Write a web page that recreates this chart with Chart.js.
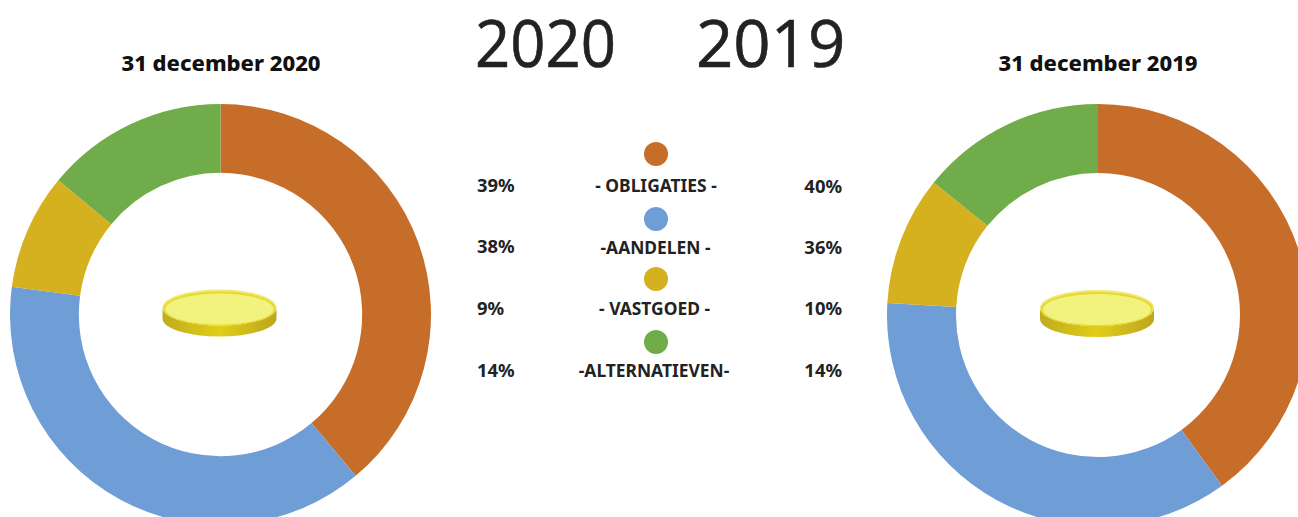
<!DOCTYPE html>
<html>
<head>
<meta charset="utf-8">
<title>Beleggingsportefeuille</title>
<script src="https://cdn.jsdelivr.net/npm/chart.js@4"></script>
<style>
  html, body { margin: 0; padding: 0; background: #fff; }
  body { position: relative; width: 1298px; height: 517px; overflow: hidden; font-family: "Noto Sans", sans-serif; color: #222; }
  canvas { position: absolute; }
  .txt { position: absolute; white-space: nowrap; line-height: 1; font-weight: 700; }
  .title { font-size: 22px; font-weight: 800; color: #111; transform: translateX(-50%); }
  .year { font-size: 66px; font-weight: 400; font-family: "Open Sans", sans-serif; transform-origin: left top; -webkit-text-stroke: 0.6px #222; }
  .row { font-size: 17.4px; }
  .pct { font-size: 18.4px; }
  .name { transform: translateX(-50%); }
  .dot { position: absolute; width: 24px; height: 24px; border-radius: 50%; }
</style>
</head>
<body>
<canvas id="chart2020"></canvas>
<canvas id="chart2019"></canvas>
<div id="labels"></div>

<script>
const categories = ['- OBLIGATIES -', '-AANDELEN -', '- VASTGOED -', '-ALTERNATIEVEN-'];
// slices as measured on the rings, the printed labels are these rounded
const values2020 = [38.9, 38.2, 8.9, 14];
const values2019 = [40, 35.9, 9.9, 14.2];
const colors = ['#c76d2a', '#6f9dd6', '#d5b11f', '#70ad4a'];
const years = ['2020', '2019'];
const titles = ['31 december 2020', '31 december 2019'];

// coin in the middle of each ring
const coinPlugin = {
  id: 'coin',
  afterDraw(chart) {
    const arc = chart.getDatasetMeta(0).data[0];
    const ctx = chart.ctx;
    const cx = arc.x - 1;
    const cy = arc.y - 7;
    const rx = 57, ry = 18, depth = 11;

    ctx.save();
    // side
    const side = ctx.createLinearGradient(cx - rx, 0, cx + rx, 0);
    side.addColorStop(0, '#c0ab1e');
    side.addColorStop(0.5, '#e2cd18');
    side.addColorStop(1, '#bba61e');
    ctx.fillStyle = side;
    ctx.beginPath();
    ctx.ellipse(cx, cy + depth, rx, ry, 0, 0, Math.PI);
    ctx.lineTo(cx - rx, cy);
    ctx.ellipse(cx, cy, rx, ry, 0, Math.PI, 0, true);
    ctx.closePath();
    ctx.fill();
    // rim
    ctx.fillStyle = '#f0e87a';
    ctx.beginPath();
    ctx.ellipse(cx, cy, rx, ry, 0, 0, Math.PI * 2);
    ctx.fill();
    ctx.fillStyle = '#e6d82e';
    ctx.beginPath();
    ctx.ellipse(cx, cy + 1, rx - 1, ry - 1, 0, 0, Math.PI * 2);
    ctx.fill();
    // top face
    ctx.fillStyle = '#f2f27e';
    ctx.beginPath();
    ctx.ellipse(cx, cy + 1.5, rx - 3, ry - 2.5, 0, 0, Math.PI * 2);
    ctx.fill();
    ctx.restore();
  }
};

function drawRing(id, values, centerX, top, size) {
  const el = document.getElementById(id);
  el.width = size;
  el.height = size;
  el.style.left = (centerX - size / 2) + 'px';
  el.style.top = top + 'px';
  new Chart(el, {
    type: 'doughnut',
    data: {
      labels: categories,
      datasets: [{
        data: values,
        backgroundColor: colors,
        borderWidth: 0
      }]
    },
    options: {
      responsive: false,
      animation: false,
      cutout: '67.3%',
      plugins: {
        legend: { display: false },
        tooltip: { enabled: false }
      }
    },
    plugins: [coinPlugin]
  });
}

function addText(cls, text, x, y, right) {
  const d = document.createElement('div');
  d.className = 'txt ' + cls;
  d.textContent = text;
  if (right) d.style.right = (1298 - x) + 'px';
  else d.style.left = x + 'px';
  d.style.top = y + 'px';
  document.getElementById('labels').appendChild(d);
  return d;
}

drawRing('chart2020', values2020, 220.5, 104, 421);
drawRing('chart2019', values2019, 1098, 104, 422);

addText('title', titles[0], 221, 51);
addText('title', titles[1], 1098, 51);
addText('year', years[0], 475, 8).style.transform = 'scaleX(0.935)';
addText('year', years[1], 696, 8).style.transform = 'scaleX(0.99)';

const dotY = [154.3, 218.7, 278.7, 342];
const nameX = [656, 655.5, 654.5, 654];
const nameY = [177, 239, 300, 362];
const leftY = [176, 237, 299, 361];
const rightY = [177, 238, 299, 361];
categories.forEach((name, i) => {
  const dot = document.createElement('div');
  dot.className = 'dot';
  dot.style.background = colors[i];
  dot.style.left = '643.7px';
  dot.style.top = (dotY[i] - 12) + 'px';
  document.getElementById('labels').appendChild(dot);

  addText('row pct', Math.round(values2020[i]) + '%', 477, leftY[i]);
  addText('row name', name, nameX[i], nameY[i]);
  addText('row pct', Math.round(values2019[i]) + '%', 842, rightY[i], true);
});
</script>
</body>
</html>
